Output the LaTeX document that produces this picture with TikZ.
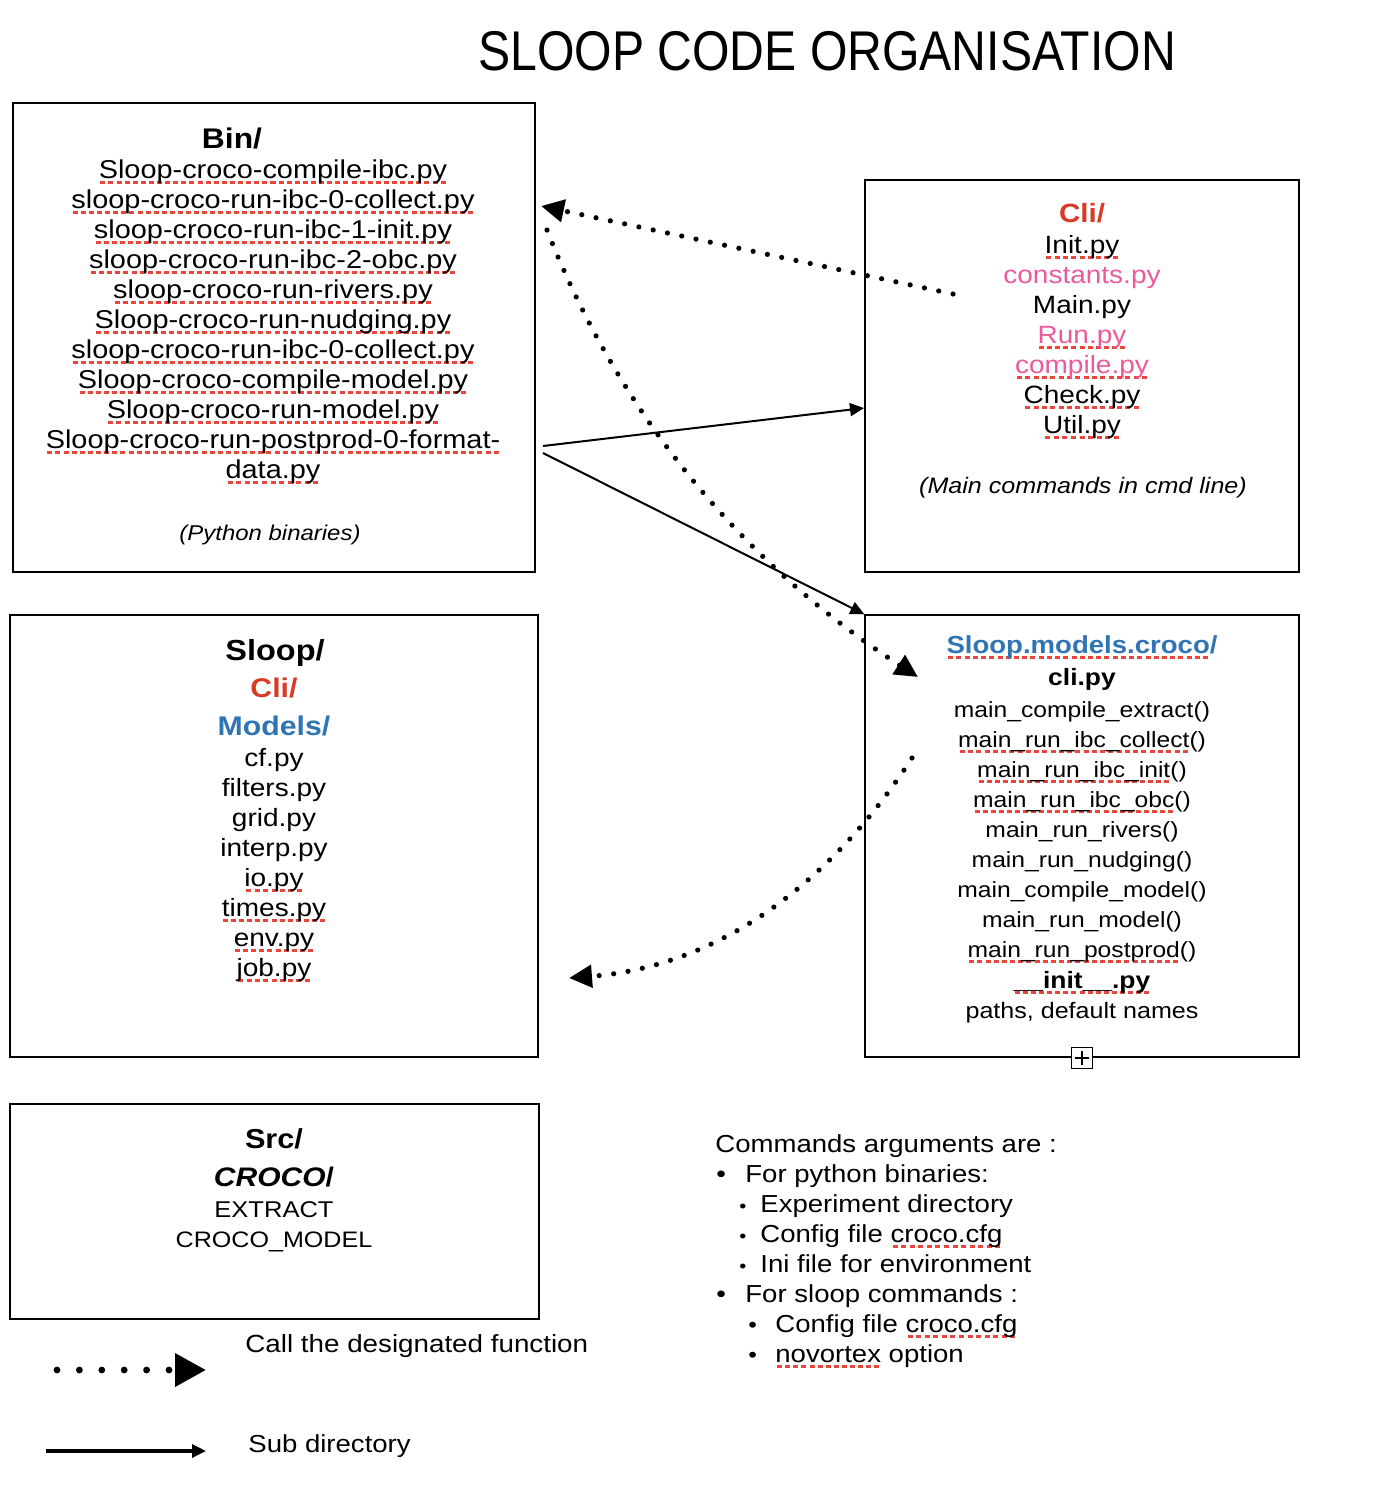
\documentclass[tikz,border=0pt]{standalone}
\usepackage{fontspec}
\setmainfont{Liberation Sans}[FakeStretch=1.12]
\newfontfamily\titlefont[FakeStretch=0.86]{Liberation Sans}
\usetikzlibrary{arrows.meta}
\definecolor{clired}{HTML}{D93A26}
\definecolor{pinkc}{HTML}{EA5A9C}
\definecolor{bluec}{HTML}{2F75B5}
\definecolor{sqred}{HTML}{E8453C}
\newcommand\fs[1]{\fontsize{#1pt}{#1pt}\selectfont}
\newsavebox\sqbox
\newcommand\sq[1]{\sbox\sqbox{#1}\rlap{\color{sqred}\raisebox{-3pt}{\hbox to \wd\sqbox{\xleaders\hbox to 4pt{\hss\vrule width 2.5pt height 1.4pt depth 0pt\hss}\hfil}}}\usebox\sqbox}
\tikzset{
  t/.style={anchor=base, inner sep=0pt},
  tl/.style={anchor=base west, inner sep=0pt},
  box/.style={draw, line width=0.7pt, inner sep=0pt},
  dotarrow/.style={line width=2.6pt, line cap=round, dash pattern=on 0pt off 7.3pt,
    -{Triangle[length=11.5pt,width=11pt]}},
  subarrow/.style={line width=1pt, -{Triangle[length=7pt,width=6.5pt]}},
  reg/.style={font=\fs{12.9}},
}
\begin{document}
\begin{tikzpicture}[x=0.5pt,y=-0.5pt]
\fill[white] (0,0) rectangle (1372,1500);
\useasboundingbox (0,0) rectangle (1372,1500);

% title
\node[t, font=\titlefont\fs{28}] (title) at (827,70) {SLOOP CODE ORGANISATION};

% boxes
\node[box, minimum width=261pt, minimum height=234.5pt] (bin) at (274,337.5) {};
\node[box, minimum width=217pt, minimum height=196pt] (cli) at (1082,376) {};
\node[box, minimum width=264pt, minimum height=221pt] (sloop) at (274,836) {};
\node[box, minimum width=217pt, minimum height=221pt] (models) at (1082,836) {};
\node[box, minimum width=264.5pt, minimum height=107.5pt] (src) at (274.5,1211.5) {};
\node[draw, fill=white, line width=0.6pt, minimum size=10.5pt, inner sep=0pt] (plus) at (1082,1058) {};
\draw[line width=0.6pt] ([xshift=-3.5pt]plus.center) -- ([xshift=3.5pt]plus.center);
\draw[line width=0.6pt] ([yshift=-3.5pt]plus.center) -- ([yshift=3.5pt]plus.center);

% Bin box
\node[t, font=\bfseries\fs{14.2}] (binh) at (232,148) {Bin/};
\node[t, reg] (b1) at (273,178) {\sq{Sloop-croco-compile-ibc.py}};
\node[t, reg] (b2) at (273,208) {\sq{sloop-croco-run-ibc-0-collect.py}};
\node[t, reg] (b3) at (273,238) {\sq{sloop-croco-run-ibc-1-init.py}};
\node[t, reg] (b4) at (273,268) {\sq{sloop-croco-run-ibc-2-obc.py}};
\node[t, reg] (b5) at (273,298) {\sq{sloop-croco-run-rivers.py}};
\node[t, reg] (b6) at (273,328) {\sq{Sloop-croco-run-nudging.py}};
\node[t, reg] (b7) at (273,358) {\sq{sloop-croco-run-ibc-0-collect.py}};
\node[t, reg] (b8) at (273,388) {\sq{Sloop-croco-compile-model.py}};
\node[t, reg] (b9) at (273,418) {\sq{Sloop-croco-run-model.py}};
\node[t, reg] (b10) at (273,448) {\sq{Sloop-croco-run-postprod-0-format-}};
\node[t, reg] (b11) at (273,478) {\sq{data.py}};
\node[t, font=\itshape\fs{10.7}] (bnote) at (270,540) {(Python binaries)};

% Cli box
\node[t, font=\bfseries\fs{13.2}, text=clired] (clih) at (1082,222) {Cli/};
\node[t, font=\fs{12.5}] (c1) at (1082,253) {\sq{Init.py}};
\node[t, font=\fs{12.5}, text=pinkc] (c2) at (1082,283) {constants.py};
\node[t, font=\fs{12.5}] (c3) at (1082,313) {Main.py};
\node[t, font=\fs{12.5}, text=pinkc] (c4) at (1082,343) {\sq{Run.py}};
\node[t, font=\fs{12.5}, text=pinkc] (c5) at (1082,373) {\sq{compile.py}};
\node[t, font=\fs{12.5}] (c6) at (1082,403) {\sq{Check.py}};
\node[t, font=\fs{12.5}] (c7) at (1082,433) {\sq{Util.py}};
\node[t, font=\itshape\fs{11.2}] (cnote) at (1083,493) {(Main commands in cmd line)};

% Sloop box
\node[t, font=\bfseries\fs{14.5}] (sh) at (275,660) {Sloop/};
\node[t, font=\bfseries\fs{13.5}, text=clired] (scli) at (274,697) {Cli/};
\node[t, font=\bfseries\fs{13.5}, text=bluec] (smod) at (274,735) {Models/};
\node[t, font=\fs{12.5}] (s1) at (274,766) {cf.py};
\node[t, font=\fs{12.5}] (s2) at (274,796) {filters.py};
\node[t, font=\fs{12.5}] (s3) at (274,826) {grid.py};
\node[t, font=\fs{12.5}] (s4) at (274,856) {interp.py};
\node[t, font=\fs{12.5}] (s5) at (274,886) {\sq{io.py}};
\node[t, font=\fs{12.5}] (s6) at (274,916) {\sq{times.py}};
\node[t, font=\fs{12.5}] (s7) at (274,946) {\sq{env.py}};
\node[t, font=\fs{12.5}] (s8) at (274,976) {\sq{job.py}};

% Models box
\node[t, font=\bfseries\fs{12.3}, text=bluec] (mh) at (1082,653) {\sq{Sloop.models.croco}/};
\node[t, font=\bfseries\fs{11.8}] (mcli) at (1082,685) {cli.py};
\node[t, font=\fs{11}] (m1) at (1082,717) {main\_compile\_extract()};
\node[t, font=\fs{11}] (m2) at (1082,747) {\sq{main\_run\_ibc\_collect}()};
\node[t, font=\fs{11}] (m3) at (1082,777) {\sq{main\_run\_ibc\_init}()};
\node[t, font=\fs{11}] (m4) at (1082,807) {\sq{main\_run\_ibc\_obc}()};
\node[t, font=\fs{11}] (m5) at (1082,837) {main\_run\_rivers()};
\node[t, font=\fs{11}] (m6) at (1082,867) {main\_run\_nudging()};
\node[t, font=\fs{11}] (m7) at (1082,897) {main\_compile\_model()};
\node[t, font=\fs{11}] (m8) at (1082,927) {main\_run\_model()};
\node[t, font=\fs{11}] (m9) at (1082,957) {\sq{main\_run\_postprod}()};
\node[t, font=\bfseries\fs{11.8}] (minit) at (1082,988) {\sq{\_\_init\_\_.py}};
\node[t, font=\fs{11.2}] (mpath) at (1082,1018) {paths, default names};

% Src box
\node[t, font=\bfseries\fs{13.7}] (srch) at (274,1148) {Src/};
\node[t, font=\bfseries\fs{13.4}] (croco) at (274,1186) {\textit{CROCO}/};
\node[t, font=\fs{11.4}] (extract) at (274,1217) {EXTRACT};
\node[t, font=\fs{11.2}] (cmodel) at (274,1247) {CROCO\_MODEL};

% legend
\node[tl, font=\fs{12.4}] (leg1) at (245,1352) {Call the designated function};
\node[tl, font=\fs{12.3}] (leg2) at (248,1452) {Sub directory};
\coordinate (l1s) at (57,1370);
\coordinate (l1e) at (206,1370);
\draw[dotarrow, line width=3.4pt, dash pattern=on 0pt off 11.2pt, -{Triangle[length=15.5pt,width=16pt]}] (l1s) -- (l1e);
\coordinate (l2s) at (46,1451);
\coordinate (l2e) at (206,1451);
\draw[subarrow, line width=1.6pt] (l2s) -- (l2e);

% commands list
\node[tl, font=\fs{12.3}] (k0) at (715,1152) {Commands arguments are :};
\node[tl, font=\fs{12.3}] (kb1) at (716,1182) {•};
\node[tl, font=\fs{12.3}] (k1) at (745,1182) {For python binaries:};
\node[tl, font=\fs{9}] (kb2) at (739,1212) {•};
\node[tl, font=\fs{12.3}] (k2) at (760,1212) {Experiment directory};
\node[tl, font=\fs{9}] (kb3) at (739,1242) {•};
\node[tl, font=\fs{12.3}] (k3) at (760,1242) {Config file \sq{croco.cfg}};
\node[tl, font=\fs{9}] (kb4) at (739,1272) {•};
\node[tl, font=\fs{12.3}] (k4) at (760,1272) {Ini file for environment};
\node[tl, font=\fs{12.3}] (kb5) at (716,1302) {•};
\node[tl, font=\fs{12.3}] (k5) at (745,1302) {For sloop commands :};
\node[tl, font=\fs{11}] (kb6) at (748,1332) {•};
\node[tl, font=\fs{12.3}] (k6) at (775,1332) {Config file \sq{croco.cfg}};
\node[tl, font=\fs{11}] (kb7) at (748,1362) {•};
\node[tl, font=\fs{12.3}] (k7) at (775,1362) {\sq{novortex} option};

% connectors
\coordinate (d1s) at (953,294);
\coordinate (d1e) at (541,206);
\draw[dotarrow] (d1s) -- (d1e);
\coordinate (d2s) at (547,230);
\coordinate (d2e) at (918,677);
\draw[dotarrow] (d2s) .. controls (619.7,415.3) and (743.3,564.3) .. (d2e);
\coordinate (d3s) at (912,758);
\coordinate (d3e) at (569,978);
\draw[dotarrow] (d3s) .. controls (823.7,894) and (709.3,967.3) .. (d3e);
\coordinate (s1s) at (543,446);
\coordinate (s1e) at (864,408);
\draw[subarrow] (s1s) -- (s1e);
\coordinate (s2s) at (543,453);
\draw[subarrow] (s2s) -- (models.north west);
\end{tikzpicture}
\end{document}
